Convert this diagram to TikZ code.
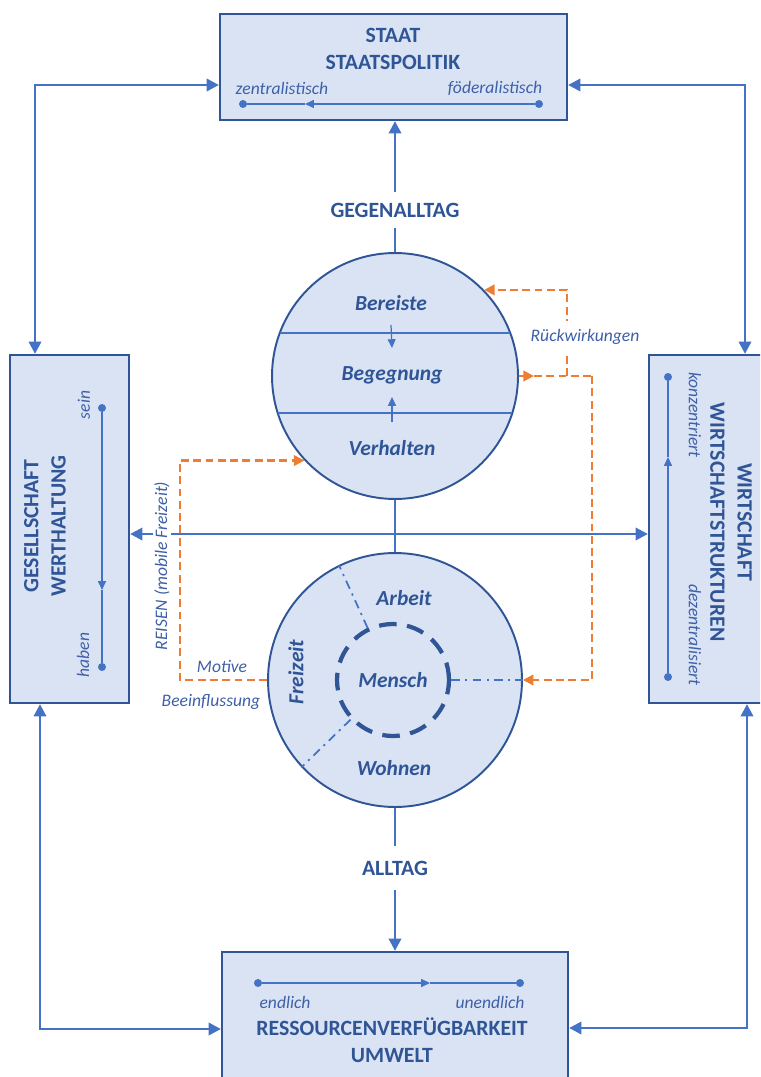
\documentclass[tikz,border=0pt]{standalone}
\usepackage{fontspec}
\setmainfont{Carlito}
\usetikzlibrary{arrows.meta, positioning, calc}
\definecolor{boxfill}{RGB}{218,227,243}
\definecolor{boxline}{RGB}{47,85,151}
\definecolor{linkblue}{RGB}{68,114,196}
\definecolor{fborange}{RGB}{237,125,49}
\definecolor{labelblue}{RGB}{62,96,168}

\begin{document}
\begin{tikzpicture}[
  x=0.02cm, y=-0.02cm,
  box/.style={draw=boxline, fill=boxfill, line width=1.3pt, inner sep=0},
  kreis/.style={circle, draw=boxline, fill=boxfill, line width=1.1pt, inner sep=0},
  titel/.style={font=\fontsize{12.4}{15.5}\selectfont\bfseries, text=boxline, align=center},
  pol/.style={font=\fontsize{10}{11}\selectfont\itshape, text=labelblue, inner sep=1pt},
  feld/.style={font=\fontsize{12.2}{13}\selectfont\bfseries\itshape, text=boxline},
  linie/.style={draw=linkblue, line width=1.5pt},
  pfeil/.style={linie, {Triangle[length=7pt,width=7pt]}-{Triangle[length=7pt,width=7pt]}},
  spitze/.style={-{Triangle[length=7pt,width=7pt]}},
  skala/.style={draw=linkblue, line width=0.7pt},
  klein/.style={-{Triangle[length=5pt,width=4.5pt]}},
  punkt/.style={circle, fill=linkblue, inner sep=0, minimum size=0.16cm},
  rueck/.style={draw=fborange, line width=1.3pt, dash pattern=on 4.5pt off 2.5pt, -{Triangle[length=6pt,width=6pt]}},
  strich/.style={draw=linkblue, line width=1pt, dash pattern=on 5pt off 3pt on 1.2pt off 3pt}
]
  \useasboundingbox (0,0) rectangle (760,1077);
  \clip (0,0) rectangle (760,1077);

  % die vier Rahmen
  \node[box, minimum width=6.94cm, minimum height=2.12cm] (staat) at (393.5,67) {};
  \node[box, minimum width=2.38cm, minimum height=6.96cm] (ges) at (69.5,529) {};
  \node[box, minimum width=2.4cm, minimum height=6.96cm] (wirt) at (709,529) {};
  \node[box, minimum width=6.92cm, minimum height=2.8cm] (res) at (395,1022) {};

  % Staat
  \node[titel] (staattxt) at (393,49) {STAAT\\STAATSPOLITIK};
  \node[pol] (zent) at (282,88) {zentralistisch};
  \node[pol] (foed) at (495,88) {föderalistisch};
  \node[punkt] (zentp) at (243,104) {};
  \node[punkt] (foedp) at (539,104) {};
  \coordinate (staatmitte) at (305,104);
  \draw[skala, klein] (foedp) -- (staatmitte);
  \draw[skala] (staatmitte) -- (zentp);

  % Gesellschaft
  \node[titel, rotate=90] (gestxt) at (45,526) {GESELLSCHAFT\\WERTHALTUNG};
  \node[pol, rotate=90] (sein) at (84,405) {sein};
  \node[pol, rotate=90] (haben) at (83,655) {haben};
  \node[punkt] (seinp) at (102,408) {};
  \node[punkt] (habenp) at (102,667) {};
  \coordinate (gesmitte) at (102,590);
  \draw[skala, klein] (seinp) -- (gesmitte);
  \draw[skala] (gesmitte) -- (habenp);

  % Wirtschaft
  \node[titel, rotate=-90] (wirttxt) at (731,522) {WIRTSCHAFT\\WIRTSCHAFTSTRUKTUREN};
  \node[pol, rotate=-90] (konz) at (695,415) {konzentriert};
  \node[pol, rotate=-90] (dez) at (695,635) {dezentralisiert};
  \node[punkt] (konzp) at (668,377) {};
  \node[punkt] (dezp) at (668,677) {};
  \coordinate (wirtmitte) at (668,457);
  \draw[skala, klein] (dezp) -- (wirtmitte);
  \draw[skala] (wirtmitte) -- (konzp);

  % Ressourcen
  \node[punkt] (endp) at (258,983) {};
  \node[punkt] (unendp) at (520,983) {};
  \coordinate (resmitte) at (430,983);
  \draw[skala, klein] (endp) -- (resmitte);
  \draw[skala] (resmitte) -- (unendp);
  \node[pol] (endl) at (285,1002) {endlich};
  \node[pol] (unendl) at (490,1002) {unendlich};
  \node[titel] (restxt) at (392,1040) {RESSOURCENVERFÜGBARKEIT\\UMWELT};

  % Kreise
  \node[kreis, minimum size=4.92cm] (oben) at (395,376) {};
  \node[kreis, minimum size=5.08cm] (unten) at (395,680) {};
  \draw[skala] ($(oben.center)+(-115,-43)$) -- ($(oben.center)+(115,-43)$);
  \draw[skala] ($(oben.center)+(-117,37)$) -- ($(oben.center)+(117,37)$);
  \node[feld] (bereiste) at (391,303) {Bereiste};
  \node[feld] (begegnung) at (392,375) {Begegnung};
  \node[feld] (verhalten) at (392,448) {Verhalten};
  \draw[skala, klein] ([yshift=-0.44cm]bereiste.center) -- ([yshift=0.54cm]begegnung.center);
  \draw[skala, klein] ([yshift=0.52cm]verhalten.center) -- ([yshift=-0.44cm]begegnung.center);

  \node[circle, draw=boxline, line width=2.4pt, dash pattern=on 10pt off 6pt,
        minimum size=2.24cm, feld] (mensch) at (393,680) {Mensch};
  \draw[strich] (mensch.116) -- (unten.116);
  \draw[strich] (mensch.223) -- (unten.223);
  \draw[strich] (mensch.east) -- (unten.east);
  \node[feld] (arbeit) at (404,598) {Arbeit};
  \node[feld] (wohnen) at (394,768) {Wohnen};
  \node[feld, rotate=90] (freizeit) at (296,672) {Freizeit};

  % Verbindungen
  \node[titel, minimum height=0.72cm, inner sep=0] (gegen) at (395,210) {GEGENALLTAG};
  \draw[linie] (oben.north) -- (gegen.south);
  \draw[linie, spitze] (gegen.north) -- (gegen.north |- staat.south);
  \draw[linie] (oben.south) -- (unten.north);
  \node[titel, minimum height=0.86cm, inner sep=0] (alltag) at (395,868) {ALLTAG};
  \draw[linie] (unten.south) -- (alltag.north);
  \draw[linie, spitze] (alltag.south) -- (alltag.south |- res.north);

  \draw[pfeil] ([yshift=-0.36cm]staat.west) -| ([xshift=-0.69cm]ges.north);
  \draw[pfeil] ([yshift=-0.36cm]staat.east) -| ([xshift=0.72cm]wirt.north);
  \draw[pfeil] ([xshift=-0.59cm]ges.south) |- ([yshift=-0.14cm]res.west);
  \draw[pfeil] ([xshift=0.76cm]wirt.south) |- ([yshift=-0.12cm]res.east);
  \draw[pfeil] ([yshift=-0.1cm]ges.east) -- ([yshift=-0.1cm]wirt.west);
  \node[pol, rotate=90, fill=white] (reisen) at (162,566) {REISEN (mobile Freizeit)};

  % Rueckwirkungen
  \coordinate (rknick) at (592,376);
  \coordinate (rzweig) at (567,376);
  \draw[rueck] (oben.east) -- ([xshift=0.3cm]oben.east);
  \draw[rueck, -] ([xshift=0.3cm]oben.east) -- (rknick);
  \draw[rueck] (rknick) |- (unten.east);
  \draw[rueck] (rzweig) |- (oben.44);
  \node[pol, fill=white, minimum height=0.66cm] (rueckw) at (585,337) {Rückwirkungen};

  \coordinate (lknick) at (180,600);
  \draw[rueck] (unten.west) -| (lknick) |- (oben.223);
  \node[pol] (motive) at (222,666) {Motive};
  \node[pol] (beein) at (211,702) {Beeinflussung};
\end{tikzpicture}
\end{document}
